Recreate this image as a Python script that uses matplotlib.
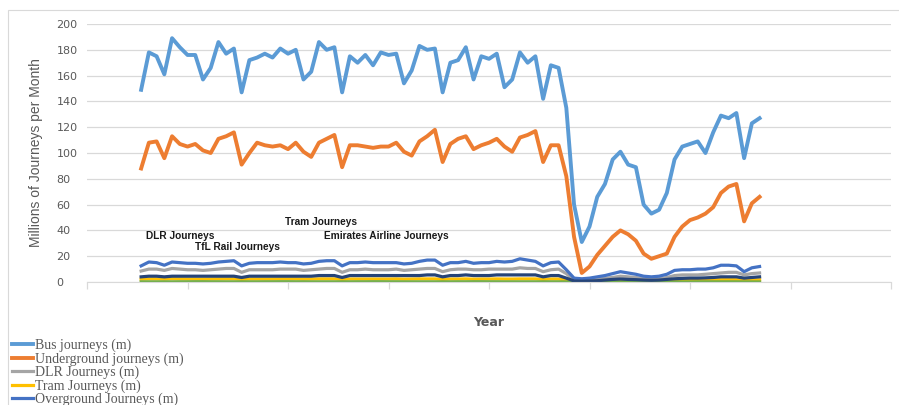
import numpy as np
import matplotlib
matplotlib.use("Agg")
from matplotlib import pyplot as plt
from matplotlib.patches import Rectangle

# 4-weekly periods, Dec 2015 .. early 2022 (millions)
bus = [149, 178, 175, 161, 189, 182, 176, 176, 157, 166,
       186, 177, 181, 147, 172, 174, 177, 174, 181, 177,
       180, 157, 163, 186, 180, 182, 147, 175, 170, 176,
       168, 178, 176, 177, 154, 164, 183, 180, 181, 147,
       170, 172, 182, 157, 175, 173, 177, 151, 157, 178,
       170, 175, 142, 168, 166, 135, 60, 31, 43, 66,
       76, 95, 101, 91, 89, 60, 53, 56, 69, 95,
       105, 107, 109, 100, 116, 129, 127, 131, 96, 123,
       127]
underground = [88, 108, 109, 96, 113, 107, 105, 107, 102, 100,
               111, 113, 116, 91, 100, 108, 106, 105, 106, 103,
               108, 101, 97, 108, 111, 114, 89, 106, 106, 105,
               104, 105, 105, 108, 101, 98, 109, 113, 118, 93,
               107, 111, 113, 103, 106, 108, 111, 105, 101, 112,
               114, 117, 93, 106, 106, 82, 35, 7, 12, 21,
               28, 35, 40, 37, 32, 22, 18, 20, 22, 35,
               43, 48, 50, 53, 58, 69, 74, 76, 47, 61,
               66]
dlr = [8.5, 10, 10, 9, 10.5, 10, 9.5, 9.5, 9, 9.5,
       10, 10.5, 10.5, 7.5, 9.5, 9.5, 9.5, 9.5, 10, 10,
       10, 9, 9.5, 10, 10.5, 10.5, 7.5, 9.5, 9.5, 10,
       9.5, 9.5, 9.5, 10, 9, 9.5, 10, 10.5, 10.5, 8,
       9.5, 10, 10, 9.5, 9.5, 10, 10, 10, 10, 11,
       10.5, 10.5, 8, 9.5, 10, 6.5, 1.5, 1, 1.5, 2,
       3, 3.5, 4.5, 4, 3.5, 2.5, 2.5, 2.5, 3.5, 5,
       5.5, 5.5, 5.5, 6, 6.5, 7, 7.5, 7.5, 5.5, 6.5,
       7]
tram = [2.2, 2.4, 2.4, 2.2, 2.5, 2.4, 2.3, 2.3, 2.2, 2.3,
        2.4, 2.4, 2.4, 2.0, 2.3, 2.3, 2.3, 2.3, 2.4, 2.4,
        2.4, 2.2, 2.3, 2.4, 2.4, 2.4, 2.0, 2.3, 2.3, 2.3,
        2.3, 2.3, 2.3, 2.4, 2.2, 2.3, 2.4, 2.4, 2.4, 2.0,
        2.3, 2.3, 2.4, 2.2, 2.3, 2.3, 2.4, 2.3, 2.3, 2.4,
        2.4, 2.4, 2.0, 2.3, 2.3, 1.5, 0.3, 0.3, 0.4, 0.6,
        0.8, 1.0, 1.1, 1.0, 0.9, 0.7, 0.6, 0.7, 0.9, 1.2,
        1.3, 1.4, 1.5, 1.5, 1.6, 1.8, 1.8, 1.8, 1.4, 1.6,
        1.7]
overground = [12.5, 15.5, 15, 13, 15.5, 15, 14.5, 14.5, 14, 14.5,
              15.5, 16, 16.5, 12.5, 14.5, 15, 15, 15, 15.5, 15,
              15, 14, 14.5, 16, 16.5, 16.5, 12.5, 15, 15, 15.5,
              15, 15, 15, 15, 14, 14.5, 16, 17, 17, 13,
              15, 15, 16, 14.5, 15, 15, 16, 15.5, 16, 18,
              17, 16, 12.5, 15, 15.5, 9.5, 3, 2.5, 3, 4,
              5, 6.5, 8, 7, 6, 4.5, 4, 4.5, 6, 9,
              9.5, 9.5, 10, 10, 11, 13, 13, 12.5, 8, 11,
              12]
emirates = [0.1, 0.1, 0.1, 0.1, 0.1, 0.15, 0.15, 0.2, 0.2, 0.15,
            0.15, 0.1, 0.1, 0.1, 0.1, 0.1, 0.15, 0.15, 0.2, 0.2,
            0.15, 0.15, 0.1, 0.1, 0.1, 0.1, 0.1, 0.1, 0.15, 0.15,
            0.2, 0.2, 0.15, 0.15, 0.1, 0.1, 0.1, 0.1, 0.1, 0.1,
            0.1, 0.15, 0.15, 0.2, 0.2, 0.15, 0.15, 0.1, 0.1, 0.1,
            0.1, 0.1, 0.1, 0.1, 0.1, 0.05, 0.0, 0.0, 0.0, 0.0,
            0.0, 0.02, 0.05, 0.05, 0.02, 0.0, 0.0, 0.0, 0.0, 0.02,
            0.05, 0.05, 0.1, 0.1, 0.1, 0.1, 0.1, 0.1, 0.05, 0.05,
            0.05]
tfl_rail = [4, 4.5, 4.5, 4, 4.5, 4.5, 4.5, 4.5, 4.5, 4.5,
            4.5, 4.5, 4.5, 3.5, 4.5, 4.5, 4.5, 4.5, 4.5, 4.5,
            4.5, 4.5, 4.5, 5, 5, 5, 3.5, 5, 5, 5,
            5, 5, 5, 5, 5, 5, 5, 5.5, 5.5, 4,
            5, 5, 5.5, 5, 5, 5, 5.5, 5.5, 5.5, 5.5,
            5.5, 5.5, 4, 5, 5, 3, 0.8, 0.6, 0.8, 1,
            1.5, 2, 2.3, 2, 1.8, 1.5, 1.3, 1.5, 2, 2.5,
            2.8, 3, 3, 3.2, 3.5, 4, 4, 4, 3, 3.5,
            4]

series = [
    ("Bus journeys (m)", bus, "#5B9BD5", 2.8),
    ("Underground journeys (m)", underground, "#ED7D31", 2.8),
    ("DLR Journeys (m)", dlr, "#A5A5A5", 2.3),
    ("Tram Journeys (m)", tram, "#FFC000", 2.3),
    ("Overground Journeys (m)", overground, "#4472C4", 2.3),
    ("Emirates Airline Journeys (m)", emirates, "#70AD47", 2.3),
    ("TfL Rail Journeys (m)", tfl_rail, "#264478", 2.3),
]

# category axis: 104 slots, data starts at slot 7
x = np.arange(7, 7 + len(bus))

fig = plt.figure(figsize=(8.99, 4.05), dpi=100)
ax = fig.add_axes([0.0968, 0.3037, 0.8943, 0.637])

lines = []
for name, vals, col, lw in series:
    ln, = ax.plot(x, vals, color=col, lw=lw, solid_joinstyle="round", label=name)
    lines.append(ln)

ax.set_xlim(0, 104)
ax.set_ylim(0, 200)
ax.set_yticks(np.arange(0, 201, 20))
ax.set_xticks(np.arange(0, 105, 13))
ax.set_xticklabels([])
ax.grid(axis="y", color="#D9D9D9", lw=0.9)
ax.set_axisbelow(True)
for s in ["top", "right", "left"]:
    ax.spines[s].set_visible(False)
ax.spines["bottom"].set_color("#D9D9D9")
ax.tick_params(axis="x", direction="out", length=5, color="#D9D9D9", width=0.9)
ax.tick_params(axis="y", length=0, pad=22, labelsize=8, labelcolor="#595959")
for t in ax.get_yticklabels():
    t.set_ha("left")

ax.set_ylabel("Millions of Journeys per Month", family=["Liberation Sans", "DejaVu Sans"],
              fontsize=10, color="#595959")
ax.yaxis.set_label_coords(-0.055, 0.5)
ax.set_xlabel("Year", fontsize=9, fontweight="bold", color="#595959")
ax.xaxis.set_label_coords(0.5, -0.13)

# floating labels
notes = [("DLR Journeys", 7.6, 35.7), ("TfL Rail Journeys", 14.0, 27.1),
         ("Tram Journeys", 25.6, 46.5), ("Emirates Airline Journeys", 30.7, 35.7)]
for txt, tx, ty in notes:
    ax.text(tx, ty, txt, fontsize=7.3, fontweight="bold", color="#1a1a1a",
            family=["Liberation Sans", "DejaVu Sans"], va="center", ha="left")

fig.legend(handles=lines[:5], loc="upper left", bbox_to_anchor=(0.013, 0.163),
           frameon=False, borderpad=0, borderaxespad=0, handlelength=1.55,
           handletextpad=0.12, labelspacing=0.0,
           prop={"family": ["Liberation Serif", "DejaVu Serif"], "size": 10},
           labelcolor="#595959")

fig.patches.append(Rectangle((8 / 899, -0.1), 1.2, 1.1 - 10 / 405, transform=fig.transFigure,
                             fill=False, edgecolor="#D9D9D9", lw=0.8))

fig.savefig("out.png", dpi=100)
